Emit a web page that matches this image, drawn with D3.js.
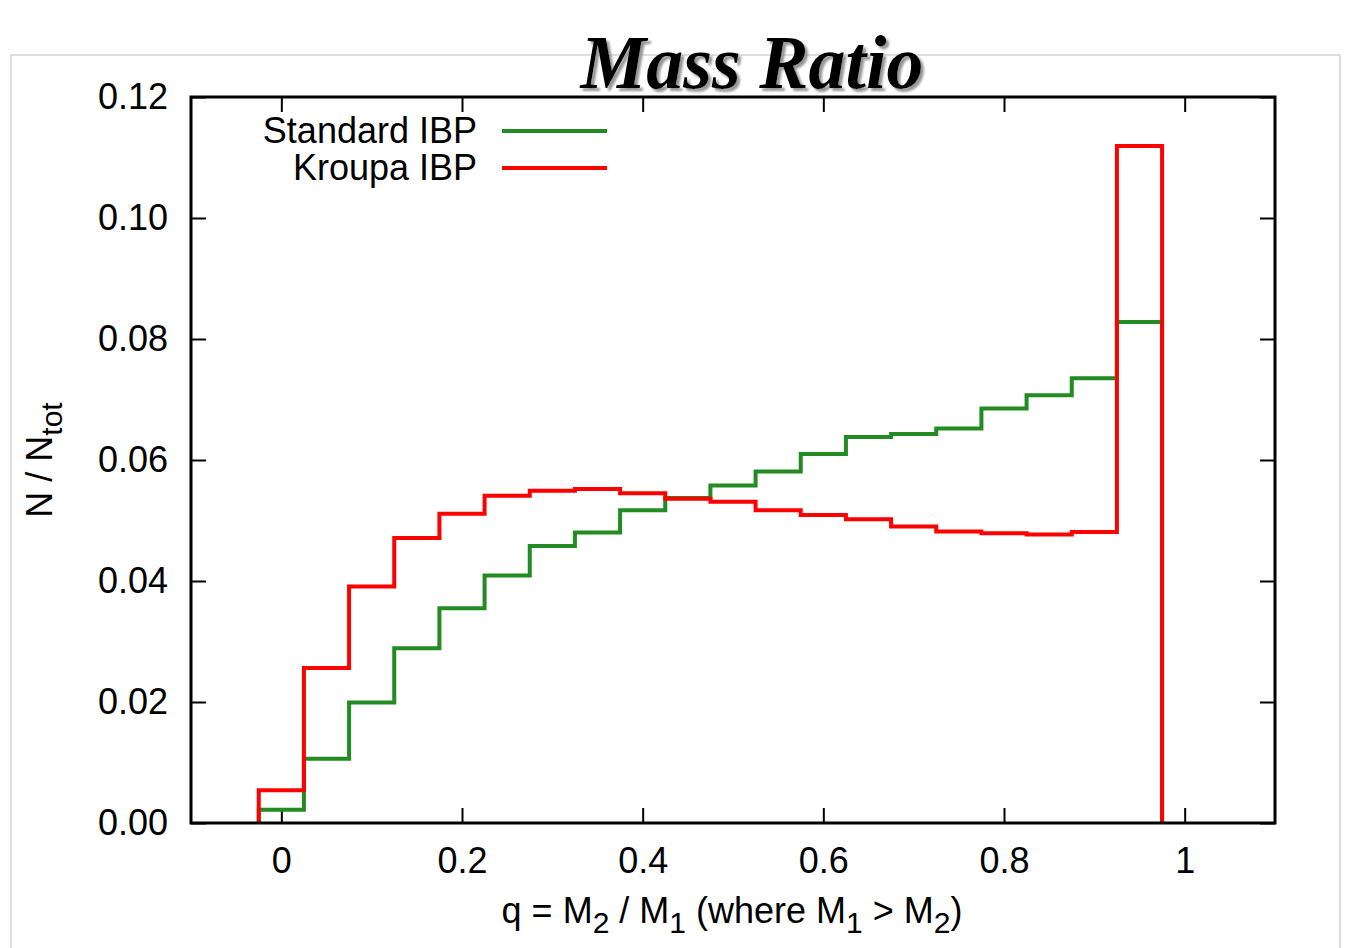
<!DOCTYPE html>
<html>
<head>
<meta charset="utf-8">
<script src="https://cdn.jsdelivr.net/npm/d3@7"></script>
<style>
  body { margin: 0; background: #fff; }
  text { font-family: "Liberation Sans", Arial, sans-serif; fill: #000; }
</style>
</head>
<body>
<div class="chart"></div>
<script>
// histogram bin centres (q) and bin width
const binCenters = [0, 0.05, 0.1, 0.15, 0.2, 0.25, 0.3, 0.35, 0.4, 0.45,
                    0.5, 0.55, 0.6, 0.65, 0.7, 0.75, 0.8, 0.85, 0.9, 0.95];
const binWidth = 0.05;

const standardIBP = [0.0022, 0.0106, 0.0199, 0.0289, 0.0355, 0.0409, 0.0458, 0.0480, 0.0517, 0.0537,
                     0.0558, 0.0581, 0.0610, 0.0638, 0.0643, 0.0652, 0.0685, 0.0707, 0.0735, 0.0828];
const kroupaIBP = [0.0054, 0.0256, 0.0391, 0.0471, 0.0511, 0.0541, 0.0549, 0.0552, 0.0545, 0.0536,
                   0.0531, 0.0517, 0.0509, 0.0502, 0.0490, 0.0482, 0.0479, 0.0477, 0.0481, 0.1119];

const xTicks = [0, 0.2, 0.4, 0.6, 0.8, 1];
const yTicks = [0, 0.02, 0.04, 0.06, 0.08, 0.10, 0.12];

const width = 1347;
const height = 948;
const margin = { left: 191, right: 72, top: 97, bottom: 125 };

const x = d3.scaleLinear().domain([-0.1, 1.1]).range([margin.left, width - margin.right]);
const y = d3.scaleLinear().domain([0, 0.12]).range([height - margin.bottom, margin.top]);

const svg = d3.select('.chart')
    .append('svg')
    .attr('width', width)
    .attr('height', height);

// soft grey shadow for the title
svg.append('defs')
    .append('filter')
    .attr('id', 'shadow')
    .attr('x', '-5%').attr('y', '-10%').attr('width', '115%').attr('height', '130%')
    .append('feDropShadow')
    .attr('dx', 3)
    .attr('dy', 3)
    .attr('stdDeviation', 0.8)
    .attr('flood-color', '#8c8c8c')
    .attr('flood-opacity', 0.9);

// light grey page frame
svg.append('path')
    .attr('d', `M11,${height} V55 H1340 V${height}`)
    .attr('fill', 'none')
    .attr('stroke', '#d4d4d4')
    .attr('stroke-width', 1.5);

// title
svg.append('text')
    .attr('x', 752)
    .attr('y', 88)
    .attr('text-anchor', 'middle')
    .attr('filter', 'url(#shadow)')
    .style('font-family', '"Liberation Serif", "Times New Roman", serif')
    .style('font-weight', 'bold')
    .style('font-style', 'italic')
    .style('font-size', '76px')
    .attr('textLength', 343)
    .attr('lengthAdjust', 'spacingAndGlyphs')
    .text('Mass Ratio');

// axes
const tickLen = 15;
const fontSize = '36px';

const xAxis = svg.append('g')
    .attr('transform', `translate(0,${y(0)})`)
    .call(d3.axisBottom(x).tickValues(xTicks).tickSize(-tickLen).tickPadding(24)
        .tickFormat((d) => (d === 0 || d === 1 ? d3.format('d')(d) : d3.format('.1f')(d))));

const yAxis = svg.append('g')
    .attr('transform', `translate(${x(-0.1)},0)`)
    .call(d3.axisLeft(y).tickValues(yTicks).tickSize(-tickLen).tickPadding(23).tickFormat(d3.format('.2f')));

const xTop = svg.append('g')
    .attr('transform', `translate(0,${y(0.12)})`)
    .call(d3.axisTop(x).tickValues(xTicks).tickSize(-tickLen).tickFormat(''));

const yRight = svg.append('g')
    .attr('transform', `translate(${x(1.1)},0)`)
    .call(d3.axisRight(y).tickValues(yTicks).tickSize(-tickLen).tickFormat(''));

[xAxis, yAxis, xTop, yRight].forEach((g) => {
    g.select('.domain').remove();
    g.selectAll('.tick line').attr('stroke', '#000').attr('stroke-width', 2);
    g.selectAll('.tick text').style('font-size', fontSize).style('font-family', '"Liberation Sans", Arial, sans-serif').attr('fill', '#000');
});

// histogram steps
function stepPoints(values) {
    const pts = [[binCenters[0] - binWidth / 2, 0]];
    values.forEach((v, i) => {
        pts.push([binCenters[i] - binWidth / 2, v]);
        pts.push([binCenters[i] + binWidth / 2, v]);
    });
    pts.push([binCenters[binCenters.length - 1] + binWidth / 2, 0]);
    return pts;
}

const line = d3.line().x((d) => x(d[0])).y((d) => y(d[1]));

const series = [
    { name: 'Standard IBP', values: standardIBP, color: '#228b22' },
    { name: 'Kroupa IBP', values: kroupaIBP, color: '#ff0000' }
];

series.forEach((s) => {
    svg.append('path')
        .attr('d', line(stepPoints(s.values)))
        .attr('fill', 'none')
        .attr('stroke', s.color)
        .attr('stroke-width', 4)
        .attr('stroke-linejoin', 'miter');
});

// plot frame
svg.append('rect')
    .attr('x', x(-0.1))
    .attr('y', y(0.12))
    .attr('width', x(1.1) - x(-0.1))
    .attr('height', y(0) - y(0.12))
    .attr('fill', 'none')
    .attr('stroke', '#000')
    .attr('stroke-width', 3);

// legend
const legend = svg.append('g').attr('class', 'legend');
series.forEach((s, i) => {
    const ly = 131 + i * 37;
    legend.append('text')
        .attr('x', 477)
        .attr('y', ly + 12)
        .attr('text-anchor', 'end')
        .style('font-size', fontSize)
        .text(s.name);
    legend.append('line')
        .attr('x1', 502)
        .attr('x2', 607)
        .attr('y1', ly)
        .attr('y2', ly)
        .attr('stroke', s.color)
        .attr('stroke-width', 4);
});

// x axis label
const xl = svg.append('text')
    .attr('x', 732)
    .attr('y', 923)
    .attr('text-anchor', 'middle')
    .style('font-size', fontSize);
[['q = M', 0], ['2', 1], [' / M', -1], ['1', 1], [' (where M', -1], ['1', 1], [' > M', -1], ['2', 1], [')', -1]]
    .forEach(([t, shift]) => {
        xl.append('tspan')
            .attr('dy', shift * 10)
            .style('font-size', shift === 1 ? '30px' : fontSize)
            .text(t);
    });

// y axis label
const yl = svg.append('text')
    .attr('transform', 'translate(52,460) rotate(-90)')
    .attr('text-anchor', 'middle')
    .style('font-size', fontSize);
yl.append('tspan').text('N / N');
yl.append('tspan').attr('dy', 10).style('font-size', '30px').text('tot');
</script>
</body>
</html>
